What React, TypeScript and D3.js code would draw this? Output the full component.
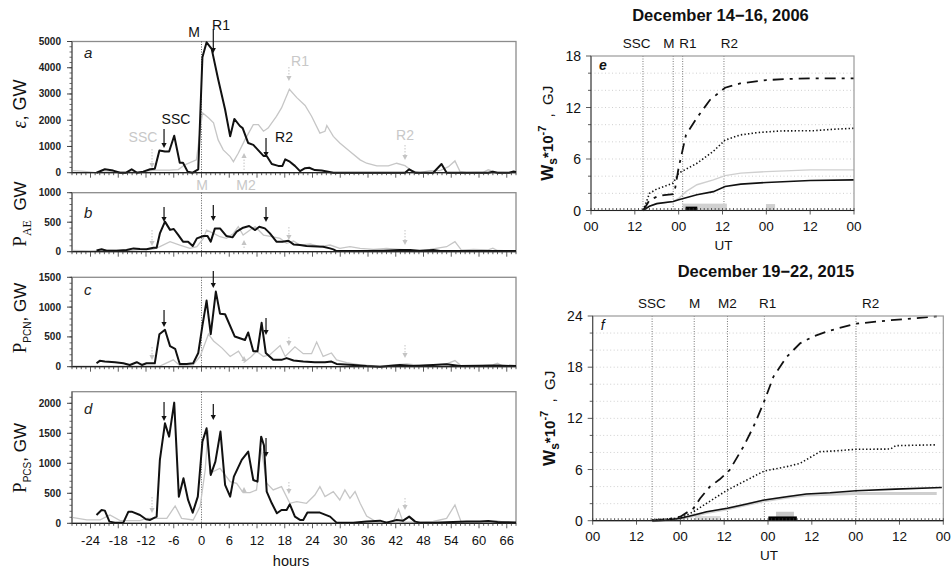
import React from 'react';
import * as d3 from 'd3';

const SANS = '"Liberation Sans", Arial, sans-serif';
const SERIF = '"Liberation Serif", "Times New Roman", serif';

type P = [number, number];

// ---------- left panels: hours relative to M ----------
const hourTicks = d3.range(-24, 67, 6);
const epsTicks = [0, 1000, 2000, 3000, 4000, 5000];
const paeTicks = [0, 500, 1000];
const pcnTicks = [0, 500, 1000, 1500];
const pcsTicks = [0, 500, 1000, 1500, 2000];

const epsBlack: P[] = [[-22.7,0],[-20.9,130],[-19.1,80],[-17.6,0],[-16.3,0],[-15.1,130],[-14.0,0],[-12.6,40],[-11.1,130],[-10.1,150],[-9.1,850],[-7.9,810],[-7.0,810],[-5.9,1410],[-4.7,380],[-4.0,380],[-3.0,40],[-1.9,0],[-0.7,130],[0.2,4400],[1.1,4970],[2.2,4720],[3.6,3560],[5.1,2410],[6.2,1385],[7.1,2050],[8.3,1780],[8.9,1700],[10.1,1130],[11.2,1060],[12.3,850],[13.4,640],[14.1,640],[15.2,330],[16.6,260],[17.5,260],[18.1,510],[19.1,420],[20.2,260],[21.3,60],[22.4,170],[23.3,190],[24.5,100],[26.0,80],[27.4,40],[28.5,0],[44.0,0],[44.9,130],[46.2,0],[50.1,0],[51.9,330],[53.0,0],[62,0],[63,40],[64,0],[66.5,0],[67.5,50],[68,20]];
const epsGray: P[] = [[-28,80],[-26,60],[-24.8,40],[-23,0],[-20,30],[-16,20],[-13,30],[-11.9,60],[-10,100],[-7,100],[-5,120],[-3.6,300],[-1.1,490],[0.2,2280],[1.5,2090],[2.6,1900],[3.6,1250],[4.7,870],[6.2,615],[6.9,420],[7.95,740],[9.4,1260],[11.2,1830],[12.3,1830],[13.4,1580],[14.4,1700],[16.2,2150],[17.3,2470],[19.0,3180],[20.6,2860],[22.4,2560],[23.8,2150],[25.6,1510],[26.7,1580],[27.1,1800],[28.5,1385],[29.9,1130],[32.1,810],[34.3,490],[35.7,360],[37.9,260],[40.4,260],[42.2,360],[44.0,270],[45.4,80],[47.2,0],[49.4,80],[51.6,80],[53.4,230],[54.8,450],[55.9,40],[57.3,0],[61,20],[62,110],[63.5,20],[68,0]];

const paeBlack: P[] = [[-22.7,20],[-21.6,40],[-20.5,17],[-18.4,17],[-16.2,28],[-14.7,56],[-13.3,45],[-11.9,40],[-10.4,68],[-9.7,68],[-9.0,310],[-7.9,510],[-6.8,370],[-6.0,385],[-5.0,280],[-4.0,170],[-2.9,170],[-1.9,96],[-1.0,226],[0.4,265],[1.3,265],[2.0,170],[2.9,395],[4.0,395],[5.4,265],[6.7,243],[7.6,340],[9.0,407],[10.3,435],[11.6,367],[12.5,424],[13.7,395],[14.8,310],[16.2,170],[17.5,170],[18.8,186],[19.9,124],[21.3,113],[22.7,96],[26.3,85],[27.8,56],[28.5,40],[29.2,11],[32.1,11],[35.7,11],[39.3,17],[42.9,28],[45.1,28],[47.2,11],[50.1,28],[51.6,11],[60.2,11],[68,11]];
const paeGray: P[] = [[-28,20],[-24,15],[-20,25],[-16,20],[-12,40],[-10.5,40],[-9.0,85],[-6.8,170],[-4.7,113],[-2.5,56],[-1.0,85],[0.4,226],[1.1,367],[2.6,310],[4.0,254],[5.4,226],[6.9,310],[7.95,424],[9.0,282],[10.5,367],[11.6,424],[13.4,282],[15.2,254],[17.0,226],[18.4,141],[19.9,181],[21.3,113],[23.5,130],[25.6,85],[27.8,113],[29.9,56],[32.1,85],[34.3,56],[37.2,40],[40.0,56],[42.9,40],[45.8,28],[49.4,40],[53.0,85],[54.8,170],[56.2,28],[58.8,40],[62,30],[63,60],[64,20],[68,10]];

const pcnBlack: P[] = [[-22.7,57],[-22.0,98],[-20.9,86],[-18.7,75],[-16.9,57],[-15.5,29],[-14.0,75],[-12.9,29],[-11.9,57],[-10.1,57],[-9.1,546],[-7.9,620],[-6.8,345],[-5.7,300],[-4.7,46],[-3.2,46],[-1.8,57],[-0.7,230],[0.2,690],[1.1,1110],[2.0,546],[3.1,1260],[4.0,890],[5.1,880],[7.2,506],[9.4,448],[10.1,575],[11.2,259],[12.1,259],[13.0,736],[13.9,230],[15.5,115],[17.3,115],[18.4,144],[19.9,103],[22.0,86],[24.5,75],[26.7,75],[28.1,86],[29.2,46],[32.8,29],[35.7,11],[38.6,0],[42.9,29],[45.8,11],[50.1,29],[53.0,40],[55.9,11],[60,15],[64,20],[68,10]];
const pcnGray: P[] = [[-28,11],[-20,10],[-12,11],[-9.0,11],[-6.1,115],[-4.7,20],[-1.8,30],[-0.3,172],[1.5,546],[2.6,431],[4.4,316],[6.2,172],[8.0,259],[9.4,86],[10.8,172],[11.9,259],[13.4,172],[14.8,200],[17.0,356],[18.1,172],[20.2,333],[22.0,218],[23.8,218],[24.9,414],[26.3,172],[28.1,230],[29.2,115],[31.4,69],[34.3,29],[38.6,10],[41.5,29],[44.4,46],[47.2,23],[50.1,29],[53.0,46],[54.8,103],[56.2,10],[60,15],[63,30],[64,60],[65,15],[68,10]];

const pcsBlack: P[] = [[-22.7,139],[-21.6,222],[-20.9,211],[-19.9,28],[-18.7,11],[-16.9,11],[-15.8,194],[-15.1,194],[-13.3,139],[-12.0,67],[-11.1,56],[-9.7,111],[-9.0,1056],[-7.9,1667],[-7.0,1444],[-5.9,2011],[-4.9,444],[-3.9,750],[-2.9,389],[-1.9,178],[-0.8,444],[0.2,1361],[1.1,1583],[2.0,806],[3.0,1028],[4.1,1528],[5.1,639],[6.2,444],[7.0,778],[8.7,1056],[10.1,1194],[11.2,722],[12.1,694],[12.9,1444],[13.5,1300],[14.1,528],[15.2,333],[16.3,167],[17.3,222],[18.4,222],[19.1,317],[20.2,111],[21.3,56],[22.0,56],[22.9,178],[25.6,178],[27.8,111],[29.2,11],[32.8,11],[35.7,28],[38.6,44],[40.0,11],[42.2,56],[43.6,44],[44.9,111],[46.2,28],[47.2,11],[50.1,11],[57.3,28],[60.2,28],[62,40],[64,20],[68,15]];
const pcsGray: P[] = [[-28,100],[-24.8,56],[-21.9,56],[-19.8,139],[-17.6,44],[-13.3,44],[-11.9,83],[-7.5,83],[-5.7,289],[-4.3,83],[-1.8,56],[-0.3,278],[0.8,889],[1.4,1550],[1.8,833],[4.0,917],[6.2,694],[7.6,667],[9.0,511],[10.5,511],[11.9,556],[12.9,1250],[14.1,667],[15.5,556],[17.3,611],[19.1,333],[20.6,361],[22.7,333],[24.5,472],[25.6,611],[26.7,444],[28.5,528],[29.9,389],[31.0,556],[32.1,417],[33.2,528],[34.3,333],[35.7,122],[37.9,20],[41.5,30],[42.6,233],[43.6,20],[45.8,20],[50.1,30],[53.0,83],[54.8,306],[56.2,10],[60,10],[64,40],[66,10],[68,5]];

// event hours for arrows (relative to M of 2006)
const evBlack = [-8.1, 2.55, 13.95];
const evGray = [-10.7, 18.9, 44.0];
const evGrayUp = 9.2;

// ---------- right panels: hours from first day 00 UT ----------
const utLabelsE = ['00', '12', '00', '12', '00', '12', '00'];
const utLabelsF = ['00', '12', '00', '12', '00', '12', '00', '12', '00'];
const eEvents = [14.23, 22.5, 25.1, 36.4];
const eEventNames = ['SSC', 'M', 'R1', 'R2'];
const eEventLabelPos = [12.5, 21.3, 26.5, 37.9];
const fEvents = [16.27, 27.8, 36.9, 47.0, 72.1];
const fEventNames = ['SSC', 'M', 'M2', 'R1', 'R2'];
const fEventLabelPos = [16.2, 27.9, 36.9, 47.9, 76.1];

const eDash: P[] = [[14.2,0],[15,0.5],[16,1.2],[18,1.6],[20,1.8],[22.5,1.9],[23,2.5],[24,5.0],[26,8.8],[29,10.8],[32.6,12.9],[36.7,14.3],[40.8,14.8],[48,15.2],[55.4,15.35],[60.8,15.4],[72,15.4]];
const eDot: P[] = [[14.2,0],[15,0.8],[16,2.0],[18,2.5],[20,2.8],[22.5,3.2],[24,4.35],[29,5.5],[33.5,6.9],[36.7,8.2],[40.8,8.8],[45.4,9.07],[52,9.27],[61,9.3],[66.5,9.47],[72,9.58]];
const eSolid: P[] = [[14.2,0],[16,0.5],[18,0.8],[22.5,1.05],[24,1.24],[29,1.83],[33.5,2.2],[36.7,2.8],[41,3.07],[48,3.26],[60,3.49],[72,3.57]];
const eGray: P[] = [[14.2,0],[16,0.5],[18,0.8],[22.5,1.05],[24,1.4],[26,2.2],[29,3.0],[33.5,3.57],[36.7,4.07],[41,4.35],[48,4.53],[60,4.73],[72,4.73]];
const eBars: { from: number; to: number; h: number; color: string }[] = [
  { from: 25.1, to: 37.2, h: 0.8, color: '#d0d0d0' },
  { from: 47.9, to: 50.4, h: 0.75, color: '#d0d0d0' },
  { from: 25.9, to: 29.1, h: 0.45, color: '#000' },
];

const fDash: P[] = [[16.3,0],[20,0.1],[24,0.47],[27.6,1.45],[29.4,2.6],[32.1,4.0],[34.8,4.85],[37.5,5.94],[41.3,8.7],[44,11.0],[46.7,13.7],[49.5,16.9],[53.1,19.2],[56.8,20.8],[60.4,21.6],[65,22.3],[72.1,23.1],[81.5,23.5],[95.6,24.0]];
const fDot: P[] = [[16.3,0.1],[20,0.2],[24,0.3],[27.6,1.05],[31.2,2.04],[36.9,3.6],[42.2,4.77],[47,5.83],[53.1,6.33],[56.8,6.73],[62.3,8.1],[65.9,8.17],[72.1,8.37],[81.5,8.4],[83,8.8],[94.2,8.9]];
const fSolid: P[] = [[16.3,0],[20,0.05],[24,0.28],[27.8,0.67],[31.2,1.05],[36.9,1.45],[42.2,1.96],[47,2.43],[53.1,2.8],[58.5,3.13],[65,3.28],[72.1,3.52],[82.9,3.7],[95.6,3.9]];
const fGray: P[] = [[16.3,0],[24,0.25],[27.8,0.6],[31.2,0.95],[36.9,1.4],[42.2,1.9],[47,2.35],[53.1,2.75],[58.5,3.0],[65,3.1],[72.1,3.2],[82.9,3.2],[94.2,3.2]];
const fBars: { from: number; to: number; h: number; base: number; color: string }[] = [
  { from: 28.0, to: 35.0, h: 0.55, base: 0, color: '#dcdcdc' },
  { from: 50.2, to: 55.1, h: 0.6, base: 0.45, color: '#c8c8c8' },
  { from: 48.1, to: 55.9, h: 0.5, base: 0, color: '#000' },
];

// ---------- helpers ----------
const LX = d3.scaleLinear().domain([-28, 68]).range([72, 516]);

function Arrow({ x, y1, y2, color, dotted, w = 1.2 }: { x: number; y1: number; y2: number; color: string; dotted?: boolean; w?: number }) {
  const dir = y2 > y1 ? 1 : -1;
  const hl = 5;
  const hw = 2.6;
  return (
    <g>
      <line x1={x} y1={y1} x2={x} y2={y2 - dir * hl} stroke={color} strokeWidth={w} strokeDasharray={dotted ? '1.5,1.5' : undefined} />
      <path d={`M${x},${y2} L${x - hw},${y2 - dir * hl} L${x + hw},${y2 - dir * hl} Z`} fill={color} />
    </g>
  );
}

type LeftProps = {
  top: number; bottom: number; yMax: number; ticks: number[]; minor: number;
  black: P[]; gray: P[]; letter: string; letterY: number;
  arrowsB: [number, number][]; arrowsG: [number, number][]; arrowUp: [number, number];
};

function LeftPanel(p: LeftProps) {
  const y = d3.scaleLinear().domain([0, p.yMax]).range([p.bottom, p.top]);
  const line = d3.line<P>().x(d => LX(d[0])).y(d => y(d[1]));
  const minorH = d3.range(-28, 69, 1);
  const minorY = d3.range(0, p.yMax + 0.1, p.minor);
  return (
    <g>
      <rect x={72} y={p.top} width={444} height={p.bottom - p.top} fill="none" stroke="#8c8c8c" strokeWidth={1.3} />
      <line x1={LX(0)} x2={LX(0)} y1={p.top} y2={p.bottom} stroke="#333" strokeWidth={0.8} strokeDasharray="1,1.5" />
      <path d={line(p.gray) || ''} fill="none" stroke="#c6c6c6" strokeWidth={1.3} />
      <path d={line(p.black) || ''} fill="none" stroke="#111" strokeWidth={2} strokeLinejoin="round" />
      <line x1={72} x2={516} y1={p.bottom} y2={p.bottom} stroke="#222" strokeWidth={1.2} />
      {minorH.map(h => (
        <line key={h} x1={LX(h)} x2={LX(h)} y1={p.bottom} y2={p.bottom + (h % 6 === 0 ? 5 : 2.5)} stroke="#333" strokeWidth={0.8} />
      ))}
      <line x1={72} x2={72} y1={p.top} y2={p.bottom} stroke="#555" strokeWidth={1} />
      {minorY.map(v => (
        <line key={v} x1={72 - 2.5} x2={72} y1={y(v)} y2={y(v)} stroke="#444" strokeWidth={0.8} />
      ))}
      {p.ticks.map(v => (
        <g key={v}>
          <line x1={72 - 5} x2={72} y1={y(v)} y2={y(v)} stroke="#333" strokeWidth={0.9} />
          <text x={61} y={y(v) + 3.5} textAnchor="end" fontFamily={SANS} fontSize={10} fontWeight="bold" fill="#222">{v}</text>
        </g>
      ))}
      <text x={84} y={p.letterY} fontFamily={SANS} fontSize={15} fontStyle="italic" fill="#222">{p.letter}</text>
      {p.arrowsB.map((a, i) => <Arrow key={'b' + i} x={LX(evBlack[i])} y1={a[0]} y2={a[1]} color="#111" />)}
      {p.arrowsG.map((a, i) => <Arrow key={'g' + i} x={LX(evGray[i])} y1={a[0]} y2={a[1]} color="#c4c4c4" dotted w={1} />)}
      <Arrow x={LX(evGrayUp)} y1={p.arrowUp[0]} y2={p.arrowUp[1]} color="#c4c4c4" dotted w={1} />
    </g>
  );
}

type RightProps = {
  x0: number; x1: number; top: number; bottom: number; hMax: number; yMax: number;
  utLabels: string[]; events: number[]; names: string[]; namePos: number[]; nameY: number;
  title: string; titleY: number; letter: string;
  dash: P[]; dot: P[]; solid: P[]; gray: P[]; grayW: number;
  bars: { from: number; to: number; h: number; base?: number; color: string }[];
};

function RightPanel(p: RightProps) {
  const x = d3.scaleLinear().domain([0, p.hMax]).range([p.x0, p.x1]);
  const y = d3.scaleLinear().domain([0, p.yMax]).range([p.bottom, p.top]);
  const line = d3.line<P>().x(d => x(d[0])).y(d => y(d[1]));
  const grid = d3.range(2, p.yMax, 2);
  const hours = d3.range(0, p.hMax + 1, 1);
  const cx = (p.x0 + p.x1) / 2;
  return (
    <g>
      <text x={cx - 2} y={p.titleY} textAnchor="middle" fontFamily={SANS} fontSize={16.5} fontWeight="bold" fill="#111">{p.title}</text>
      {grid.map(v => (
        <line key={v} x1={p.x0} x2={p.x1} y1={y(v)} y2={y(v)} stroke="#bbb" strokeWidth={0.7} strokeDasharray="1,2.5" />
      ))}
      {p.events.map((h, i) => (
        <line key={i} x1={x(h)} x2={x(h)} y1={p.top} y2={p.bottom} stroke="#555" strokeWidth={0.8} strokeDasharray="1,1.5" />
      ))}
      {p.names.map((n, i) => (
        <text key={n} x={x(p.namePos[i])} y={p.nameY} textAnchor="middle" fontFamily={SANS} fontSize={13.5} fill="#111">{n}</text>
      ))}
      {p.bars.map((b, i) => (
        <rect key={i} x={x(b.from)} width={x(b.to) - x(b.from)} y={y((b.base || 0) + b.h)} height={y(b.base || 0) - y((b.base || 0) + b.h)} fill={b.color} />
      ))}
      <path d={line(p.gray) || ''} fill="none" stroke="#cfcfcf" strokeWidth={p.grayW} />
      <path d={line(p.solid) || ''} fill="none" stroke="#111" strokeWidth={1.6} />
      <path d={line(p.dot) || ''} fill="none" stroke="#111" strokeWidth={1.6} strokeDasharray="1.4,2.2" />
      <path d={line(p.dash) || ''} fill="none" stroke="#111" strokeWidth={1.8} strokeDasharray="11,6,3,6" />
      <rect x={p.x0} y={p.top} width={p.x1 - p.x0} height={p.bottom - p.top} fill="none" stroke="#9a9a9a" strokeWidth={1.2} />
      <line x1={p.x0} x2={p.x1} y1={p.bottom} y2={p.bottom} stroke="#222" strokeWidth={1.2} />
      <line x1={p.x0} x2={p.x0} y1={p.top} y2={p.bottom} stroke="#444" strokeWidth={1} />
      {hours.map(h => (
        <line key={h} x1={x(h)} x2={x(h)} y1={h % 12 === 0 ? p.bottom + 4 : p.bottom} y2={p.bottom - 2.5} stroke="#333" strokeWidth={0.8} />
      ))}
      {p.utLabels.map((l, i) => (
        <text key={i} x={x(i * 12)} y={p.bottom + 20} textAnchor="middle" fontFamily={SANS} fontSize={13.5} fill="#111">{l}</text>
      ))}
      <text x={x(p.hMax / 2) + 1} y={p.bottom + 39} textAnchor="middle" fontFamily={SANS} fontSize={13.5} fill="#111">UT</text>
      {d3.range(0, p.yMax + 0.1, 2).map(v => (
        <line key={v} x1={p.x0 - (v % 6 === 0 ? 5 : 3)} x2={p.x0} y1={y(v)} y2={y(v)} stroke="#333" strokeWidth={0.8} />
      ))}
      {d3.range(0, p.yMax + 0.1, 6).map(v => (
        <text key={v} x={p.x0 - 10} y={y(v) + 5} textAnchor="end" fontFamily={SANS} fontSize={14} fill="#111">{v}</text>
      ))}
      <text x={p.x0 + 8} y={p.top + 14} fontFamily={SANS} fontSize={14} fontStyle="italic" fontWeight={p.letter === 'e' ? 'bold' : 'normal'} fill="#111">{p.letter}</text>
      <text transform={`translate(${p.x0 - 38},${(p.top + p.bottom) / 2}) rotate(-90)`} textAnchor="middle" fontFamily={SANS} fill="#111">
        <tspan fontSize={17} fontWeight="bold">W</tspan>
        <tspan fontSize={12} fontWeight="bold" dy={4}>s</tspan>
        <tspan fontSize={15} fontWeight="bold" dy={-4}>*10</tspan>
        <tspan fontSize={11} fontWeight="bold" dy={-7}>-7</tspan>
        <tspan fontSize={15} dy={7}>{'\u00a0\u00a0,\u00a0\u00a0GJ'}</tspan>
      </text>
    </g>
  );
}

export default function App() {
  return (
    <svg width={952} height={572} style={{ position: 'absolute', left: 0, top: 0, background: '#fff' }}>
      <rect x={0} y={0} width={952} height={572} fill="#fff" />
      {/* Panel a */}
      <LeftPanel top={41.5} bottom={172.7} yMax={5000} ticks={epsTicks} minor={200} black={epsBlack} gray={epsGray} letter="a" letterY={58}
        arrowsB={[[129, 148], [29, 53], [138, 157]]} arrowsG={[[149, 168], [67, 81], [145, 160]]} arrowUp={[170, 153]} />
      {/* Panel b */}
      <LeftPanel top={192.7} bottom={251.7} yMax={1000} ticks={paeTicks} minor={100} black={paeBlack} gray={paeGray} letter="b" letterY={218}
        arrowsB={[[207, 222], [205, 221], [207, 222]]} arrowsG={[[230, 246], [227, 240], [230, 245]]} arrowUp={[248, 240]} />
      {/* Panel c */}
      <LeftPanel top={277.3} bottom={366.7} yMax={1500} ticks={pcnTicks} minor={100} black={pcnBlack} gray={pcnGray} letter="c" letterY={295}
        arrowsB={[[310, 327], [271, 288], [318, 335]]} arrowsG={[[347, 360], [337, 346], [345, 358]]} arrowUp={[363, 356]} />
      {/* Panel d */}
      <LeftPanel top={391.7} bottom={523.3} yMax={2193} ticks={pcsTicks} minor={100} black={pcsBlack} gray={pcsGray} letter="d" letterY={414}
        arrowsB={[[402, 421], [404, 420], [438, 457]]} arrowsG={[[497, 513], [482, 494], [498, 510]]} arrowUp={[493, 487]} />

      {/* Panel a annotations */}
      <text x={200} y={37} textAnchor="end" fontFamily={SANS} fontSize={14} fill="#111">M</text>
      <text x={221} y={30} textAnchor="middle" fontFamily={SANS} fontSize={14} fill="#111">R1</text>
      <text x={176} y={124} textAnchor="middle" fontFamily={SANS} fontSize={14} fill="#111">SSC</text>
      <text x={284} y={142} textAnchor="middle" fontFamily={SANS} fontSize={14} fill="#111">R2</text>
      <text x={143} y={142} textAnchor="middle" fontFamily={SANS} fontSize={14} fill="#c8c8c8">SSC</text>
      <text x={300} y={66} textAnchor="middle" fontFamily={SANS} fontSize={14} fill="#c8c8c8">R1</text>
      <text x={405} y={140} textAnchor="middle" fontFamily={SANS} fontSize={14} fill="#c8c8c8">R2</text>
      <text x={202} y={190} textAnchor="middle" fontFamily={SANS} fontSize={14} fill="#c8c8c8">M</text>
      <text x={246} y={190} textAnchor="middle" fontFamily={SANS} fontSize={14} fill="#c8c8c8">M2</text>

      {/* left y-axis titles */}
      <text transform="translate(26,104) rotate(-90)" textAnchor="middle" fontFamily={SANS} fontSize={18} fill="#111">
        <tspan fontFamily={SERIF} fontStyle="italic" fontSize={20}>ε</tspan>, GW
      </text>
      <text transform="translate(26,214) rotate(-90)" textAnchor="middle" fontFamily={SANS} fontSize={17} fill="#111">
        <tspan fontFamily={SERIF} fontSize={19}>P</tspan>
        <tspan fontFamily={SERIF} fontSize={12} dy={5}>AE</tspan>
        <tspan dy={-5}>{'\u00a0\u00a0GW'}</tspan>
      </text>
      <text transform="translate(26,318) rotate(-90)" textAnchor="middle" fontFamily={SANS} fontSize={17} fill="#111">
        <tspan fontFamily={SERIF} fontSize={19}>P</tspan>
        <tspan fontSize={10} dy={5}>PCN</tspan>
        <tspan dy={-5}>, GW</tspan>
      </text>
      <text transform="translate(26,458) rotate(-90)" textAnchor="middle" fontFamily={SANS} fontSize={17} fill="#111">
        <tspan fontFamily={SERIF} fontSize={19}>P</tspan>
        <tspan fontSize={10} dy={5}>PCS</tspan>
        <tspan dy={-5}>, GW</tspan>
      </text>

      {/* hours axis labels */}
      {hourTicks.map(h => (
        <text key={h} x={LX(h)} y={545} textAnchor="middle" fontFamily={SANS} fontSize={13} fill="#111">{h}</text>
      ))}
      <text x={291} y={566} textAnchor="middle" fontFamily={SANS} fontSize={14.5} fill="#111">hours</text>

      {/* Right panels */}
      <RightPanel x0={591} x1={854} top={56} bottom={210.5} hMax={72} yMax={18} utLabels={utLabelsE}
        events={eEvents} names={eEventNames} namePos={eEventLabelPos} nameY={48}
        title="December 14−16, 2006" titleY={21} letter="e"
        dash={eDash} dot={eDot} solid={eSolid} gray={eGray} grayW={1.4} bars={eBars} />
      <RightPanel x0={592.7} x1={943.3} top={316} bottom={520.7} hMax={96} yMax={24} utLabels={utLabelsF}
        events={fEvents} names={fEventNames} namePos={fEventLabelPos} nameY={308}
        title="December 19−22, 2015" titleY={277} letter="f"
        dash={fDash} dot={fDot} solid={fSolid} gray={fGray} grayW={3} bars={fBars} />
    </svg>
  );
}
